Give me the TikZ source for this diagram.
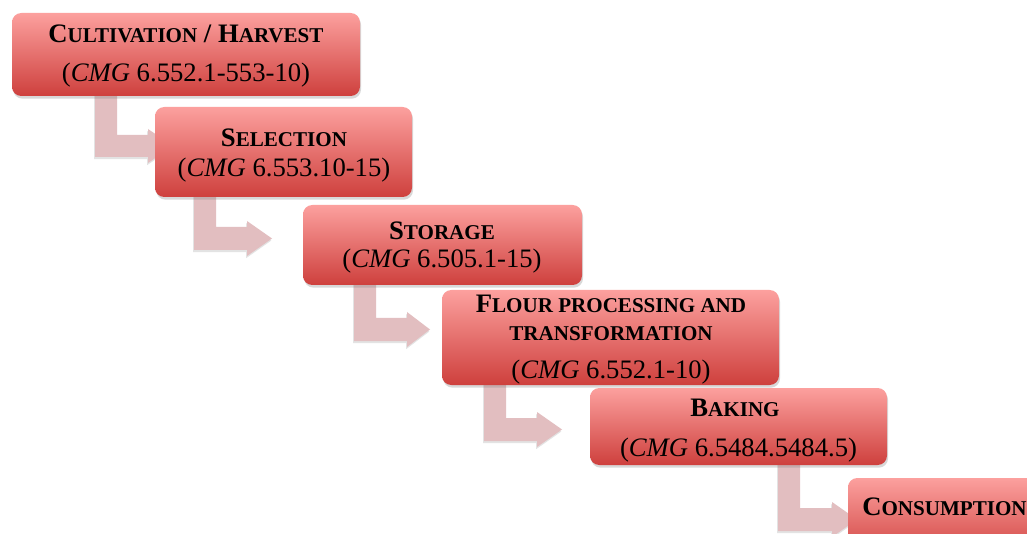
\documentclass[tikz,border=0pt]{standalone}
\usepackage{fontspec}
\setmainfont{Liberation Serif}
\usetikzlibrary{shadows}
\definecolor{boxtop}{RGB}{252,160,158}
\definecolor{boxbot}{RGB}{206,64,61}
\definecolor{arrfill}{RGB}{226,190,192}
\newcommand\smc[1]{{\fontsize{15.8pt}{18pt}\selectfont #1}}
\pgfdeclarelayer{back}
\pgfdeclarelayer{bg}
\pgfsetlayers{back,bg,main}
\tikzset{
  box/.style={rectangle, rounded corners=7pt, inner sep=0pt, top color=boxtop, bottom color=boxbot,
    drop shadow={opacity=0.3, shadow xshift=0.8pt, shadow yshift=-2pt}},
  txt/.style={inner sep=0pt, anchor=base, font=\fontsize{20pt}{24pt}\selectfont},
  arr/.style={fill=arrfill, drop shadow={opacity=0.22, shadow xshift=-0.6pt, shadow yshift=-1.6pt}}
}
\begin{document}
\begin{tikzpicture}[x=0.75pt, y=-0.75pt]
\begin{pgfonlayer}{back}
\fill[white] (0,0) rectangle (1027,534);
\end{pgfonlayer}
\useasboundingbox (0,0) rectangle (1027,534);
% boxes
\node[box, minimum width=261pt, minimum height=62.25pt] (b1) at (186,54.5) {};
\node[box, minimum width=192.75pt, minimum height=67.5pt] (b2) at (283.5,152) {};
\node[box, minimum width=209.25pt, minimum height=60pt] (b3) at (442.5,245) {};
\node[box, minimum width=252.75pt, minimum height=71.25pt] (b4) at (610.5,337.5) {};
\node[box, minimum width=222.75pt, minimum height=57.75pt] (b5) at (738.5,426.5) {};
\node[box, minimum width=166.5pt, minimum height=61.5pt] (b6) at (959,519) {};
% texts
\node[txt] (t1a) at (186,43) {\bfseries C\smc{ULTIVATION} / H\smc{ARVEST}};
\node[txt] (t1b) at (186,82) {(\textit{CMG} 6.552.1-553-10)};
\node[txt] (t2a) at (284,147) {\bfseries S\smc{ELECTION}};
\node[txt] (t2b) at (284,177) {(\textit{CMG} 6.553.10-15)};
\node[txt] (t3a) at (442,240) {\bfseries S\smc{TORAGE}};
\node[txt] (t3b) at (442,268) {(\textit{CMG} 6.505.1-15)};
\node[txt] (t4a) at (611,313) {\bfseries F\smc{LOUR PROCESSING AND}};
\node[txt] (t4b) at (611,340) {\bfseries\smc{TRANSFORMATION}};
\node[txt] (t4c) at (611,378) {(\textit{CMG} 6.552.1-10)};
\node[txt] (t5a) at (735,416) {\bfseries B\smc{AKING}};
\node[txt] (t5b) at (738.5,456) {(\textit{CMG} 6.5484.5484.5)};
\node[txt, anchor=base west] (t6a) at (862,515) {\bfseries C\smc{ONSUMPTION}};
% bent arrows
\begin{pgfonlayer}{bg}
\path[arr] (95,0 |- b1.center) -- (117,0 |- b1.center) -- (117,135) -- (148,135) -- (148,129) -- (173,146) -- (148,163) -- (148,157) -- (95,157) -- cycle;
\path[arr] (194,0 |- b2.center) -- (216,0 |- b2.center) -- (216,227) -- (247,227) -- (247,221) -- (272,238.5) -- (247,256) -- (247,250) -- (194,250) -- cycle;
\path[arr] (354,0 |- b3.center) -- (376,0 |- b3.center) -- (376,318) -- (407,318) -- (407,312) -- (430,329.5) -- (407,347) -- (407,341) -- (354,341) -- cycle;
\path[arr] (484,0 |- b4.center) -- (506,0 |- b4.center) -- (506,418) -- (537,418) -- (537,412) -- (562,429.5) -- (537,447) -- (537,441) -- (484,441) -- cycle;
\path[arr] (778,0 |- b5.center) -- (800,0 |- b5.center) -- (800,508) -- (832,508) -- (832,502) -- (857,519.5) -- (832,537) -- (832,531) -- (778,531) -- cycle;
\end{pgfonlayer}
\end{tikzpicture}
\end{document}
